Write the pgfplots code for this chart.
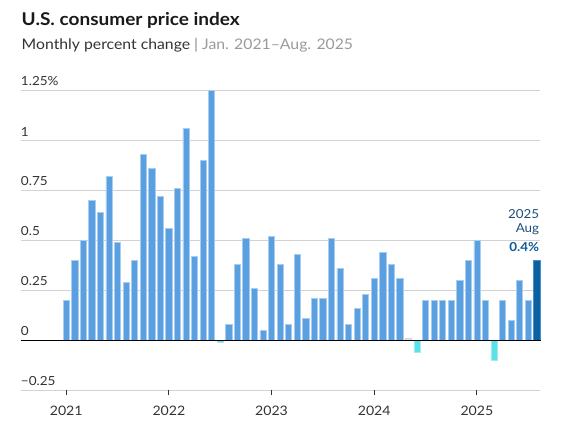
\documentclass[border=0pt]{standalone}
\usepackage{pgfplots}
\pgfplotsset{compat=1.18}
\usepackage{fontspec}
\setmainfont{Lato}[FakeStretch=1.08]
\definecolor{barblue}{HTML}{5A9FE0}
\definecolor{baredge}{HTML}{A9CDF0}
\definecolor{negcyan}{HTML}{5CE1E8}
\definecolor{negedge}{HTML}{A0EEF3}
\definecolor{darkbar}{HTML}{0A62A0}
\definecolor{darkedge}{HTML}{4A8FCB}
\definecolor{gridgray}{HTML}{D2D2D2}
\definecolor{txt}{HTML}{333333}
\definecolor{subgray}{HTML}{9A9A9A}
\definecolor{annot}{HTML}{1F4E7A}
\definecolor{annotb}{HTML}{0D5A98}
\begin{document}
\begin{tikzpicture}
\useasboundingbox (0pt,0pt) rectangle (435pt,325.5pt);
\node[anchor=base west,inner sep=0pt,font=\fontsize{13.2pt}{15pt}\selectfont\bfseries,text=black!90] at (16.1pt,306pt) {U.S. consumer price index};
\node[anchor=base west,inner sep=0pt,font=\fontsize{10.95pt}{13pt}\selectfont,text=txt] at (16.1pt,288.5pt) {Monthly percent change {\color{subgray!90!black}|} {\color{subgray}Jan. 2021–Aug. 2025}};
\begin{axis}[
  at={(15.525pt,32.775pt)}, anchor=south west,
  scale only axis, width=389.5pt, height=225pt,
  xmin=-5.32, xmax=55.38, ymin=-0.25, ymax=1.25,
  ybar, bar width=4.6pt, bar shift=0pt,
  axis line style={draw=none},
  ymajorgrids, grid style={gridgray, line width=0.75pt},
  ytick={-0.25,0,0.25,0.5,0.75,1,1.25},
  yticklabels={−0.25,0,0.25,0.5,0.75,1,1.25\%},
  ytick style={draw=none},
  yticklabel style={anchor=south west, inner sep=0pt, yshift=3pt, text=txt, font=\fontsize{9.4pt}{11pt}\selectfont},
  xtick={0,12,24,36,48},
  xticklabels={2021,2022,2023,2024,2025},
  xtick pos=bottom, ytick pos=left,
  xtick align=outside, major tick length=3.75pt,
  xtick style={draw=txt, line width=0.8pt},
  xticklabel style={inner sep=0pt, yshift=-7.5pt, text=txt, font=\fontsize{9.8pt}{11pt}\selectfont},
  /pgf/number format/assume math mode=true,
  clip=false,
]
\addplot[fill=barblue, draw=baredge, line width=0.5pt] coordinates {
(0,0.20) (1,0.40) (2,0.50) (3,0.70) (4,0.64) (5,0.82) (6,0.49) (7,0.29)
(8,0.40) (9,0.93) (10,0.86) (11,0.72) (12,0.56) (13,0.76) (14,1.06) (15,0.42)
(16,0.90) (17,1.25) (19,0.08) (20,0.38) (21,0.51) (22,0.26) (23,0.05)
(24,0.52) (25,0.38) (26,0.08) (27,0.43) (28,0.11) (29,0.21) (30,0.21) (31,0.51)
(32,0.36) (33,0.08) (34,0.16) (35,0.23) (36,0.31) (37,0.44) (38,0.38) (39,0.31)
(42,0.20) (43,0.20) (44,0.20) (45,0.20) (46,0.30) (47,0.40)
(48,0.50) (49,0.20) (51,0.20) (52,0.10) (53,0.30) (54,0.20)
};
\addplot[fill=gridgray!70!barblue!40, draw=gridgray, line width=0.5pt] coordinates {(40,0.01)};
\addplot[fill=negcyan, draw=negedge, line width=0.5pt] coordinates {(18,-0.01) (41,-0.06) (50,-0.10)};
\addplot[fill=darkbar, draw=darkedge, line width=0.5pt] coordinates {(55,0.40)};
\draw[black, line width=1pt] (axis cs:-5.32,0) -- (axis cs:55.5,0);
\node[anchor=base east, inner sep=0pt, text=annot, font=\fontsize{9.3pt}{11pt}\selectfont] at (axis cs:55.3,0.61) {2025};
\node[anchor=base east, inner sep=0pt, text=annot, font=\fontsize{9.3pt}{11pt}\selectfont] at (axis cs:55.3,0.538) {Aug};
\node[anchor=base east, inner sep=0pt, text=annotb, font=\fontsize{9.3pt}{11pt}\selectfont\bfseries] at (axis cs:55.3,0.443) {0.4\%};
\end{axis}
\end{tikzpicture}
\end{document}
